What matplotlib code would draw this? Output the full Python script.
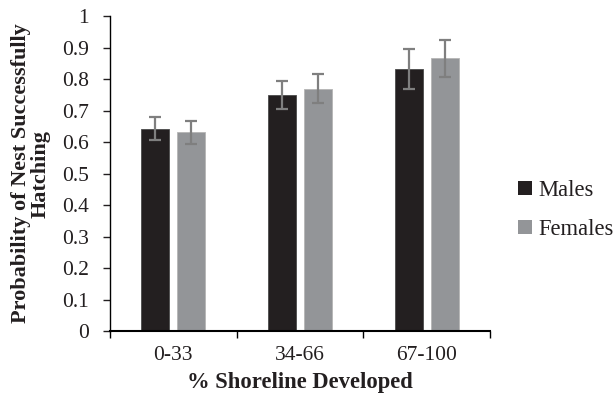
import numpy as np
import matplotlib.pyplot as plt
from matplotlib.patches import Patch

categories = ['0-33', '34-66', '67-100']
males = [0.643, 0.749, 0.832]
females = [0.631, 0.769, 0.866]
males_err = [0.037, 0.045, 0.063]
females_err = [0.036, 0.046, 0.058]

plt.rcParams['font.family'] = ['Liberation Serif', 'DejaVu Serif']

fig = plt.figure(figsize=(6.14, 4.04), dpi=100)
ax = fig.add_axes([0.1792, 0.1807, 0.6189, 0.7795])

x = np.arange(len(categories))
w = 0.22
off = 0.142
ax.bar(x - off, males, w, color='#231f20', edgecolor='#4a4a4a', linewidth=0.6,
       yerr=males_err, error_kw=dict(ecolor='#7f7f7f', elinewidth=1.6, capsize=4.5, capthick=1.6))
ax.bar(x + off, females, w, color='#939598', edgecolor='#b5b5b5', linewidth=0.6,
       yerr=females_err, error_kw=dict(ecolor='#7f7f7f', elinewidth=1.6, capsize=4.5, capthick=1.6))

ax.set_xlim(-0.5, 2.5)
ax.set_ylim(0, 1)
ax.set_yticks(np.arange(0, 1.01, 0.1))
ax.set_yticklabels(['0', '0.1', '0.2', '0.3', '0.4', '0.5', '0.6', '0.7', '0.8', '0.9', '1'])
ax.set_xticks(x)
ax.set_xticklabels(categories)
ax.set_xticks([-0.5, 0.5, 1.5, 2.5], minor=True)
ax.tick_params(axis='x', which='major', length=0, pad=11, labelsize=15.5, colors='#231f20')
ax.tick_params(axis='x', which='minor', length=5, width=1, direction='out')
ax.tick_params(axis='y', length=5, width=1, pad=10, labelsize=15.5, colors='#231f20')

for s in ['top', 'right']:
    ax.spines[s].set_visible(False)
ax.spines['left'].set_linewidth(1)
ax.spines['bottom'].set_linewidth(1.5)

ax.set_xlabel('% Shoreline Developed', fontsize=16.3, fontweight='bold', labelpad=5,
              color='#231f20')
ax.set_ylabel('Probability of Nest Successfully\nHatching', fontsize=16,
              fontweight='bold', labelpad=8, linespacing=1.0, color='#231f20')

handles = [Patch(facecolor='#231f20', label='Males'),
           Patch(facecolor='#939598', label='Females')]
fig.legend(handles=handles, loc='center left', bbox_to_anchor=(0.811, 0.48),
           frameon=False, fontsize=16.3, handlelength=0.6, handleheight=0.6,
           handletextpad=0.3, labelspacing=0.78, labelcolor='#231f20')

fig.savefig('out.png', dpi=100)
